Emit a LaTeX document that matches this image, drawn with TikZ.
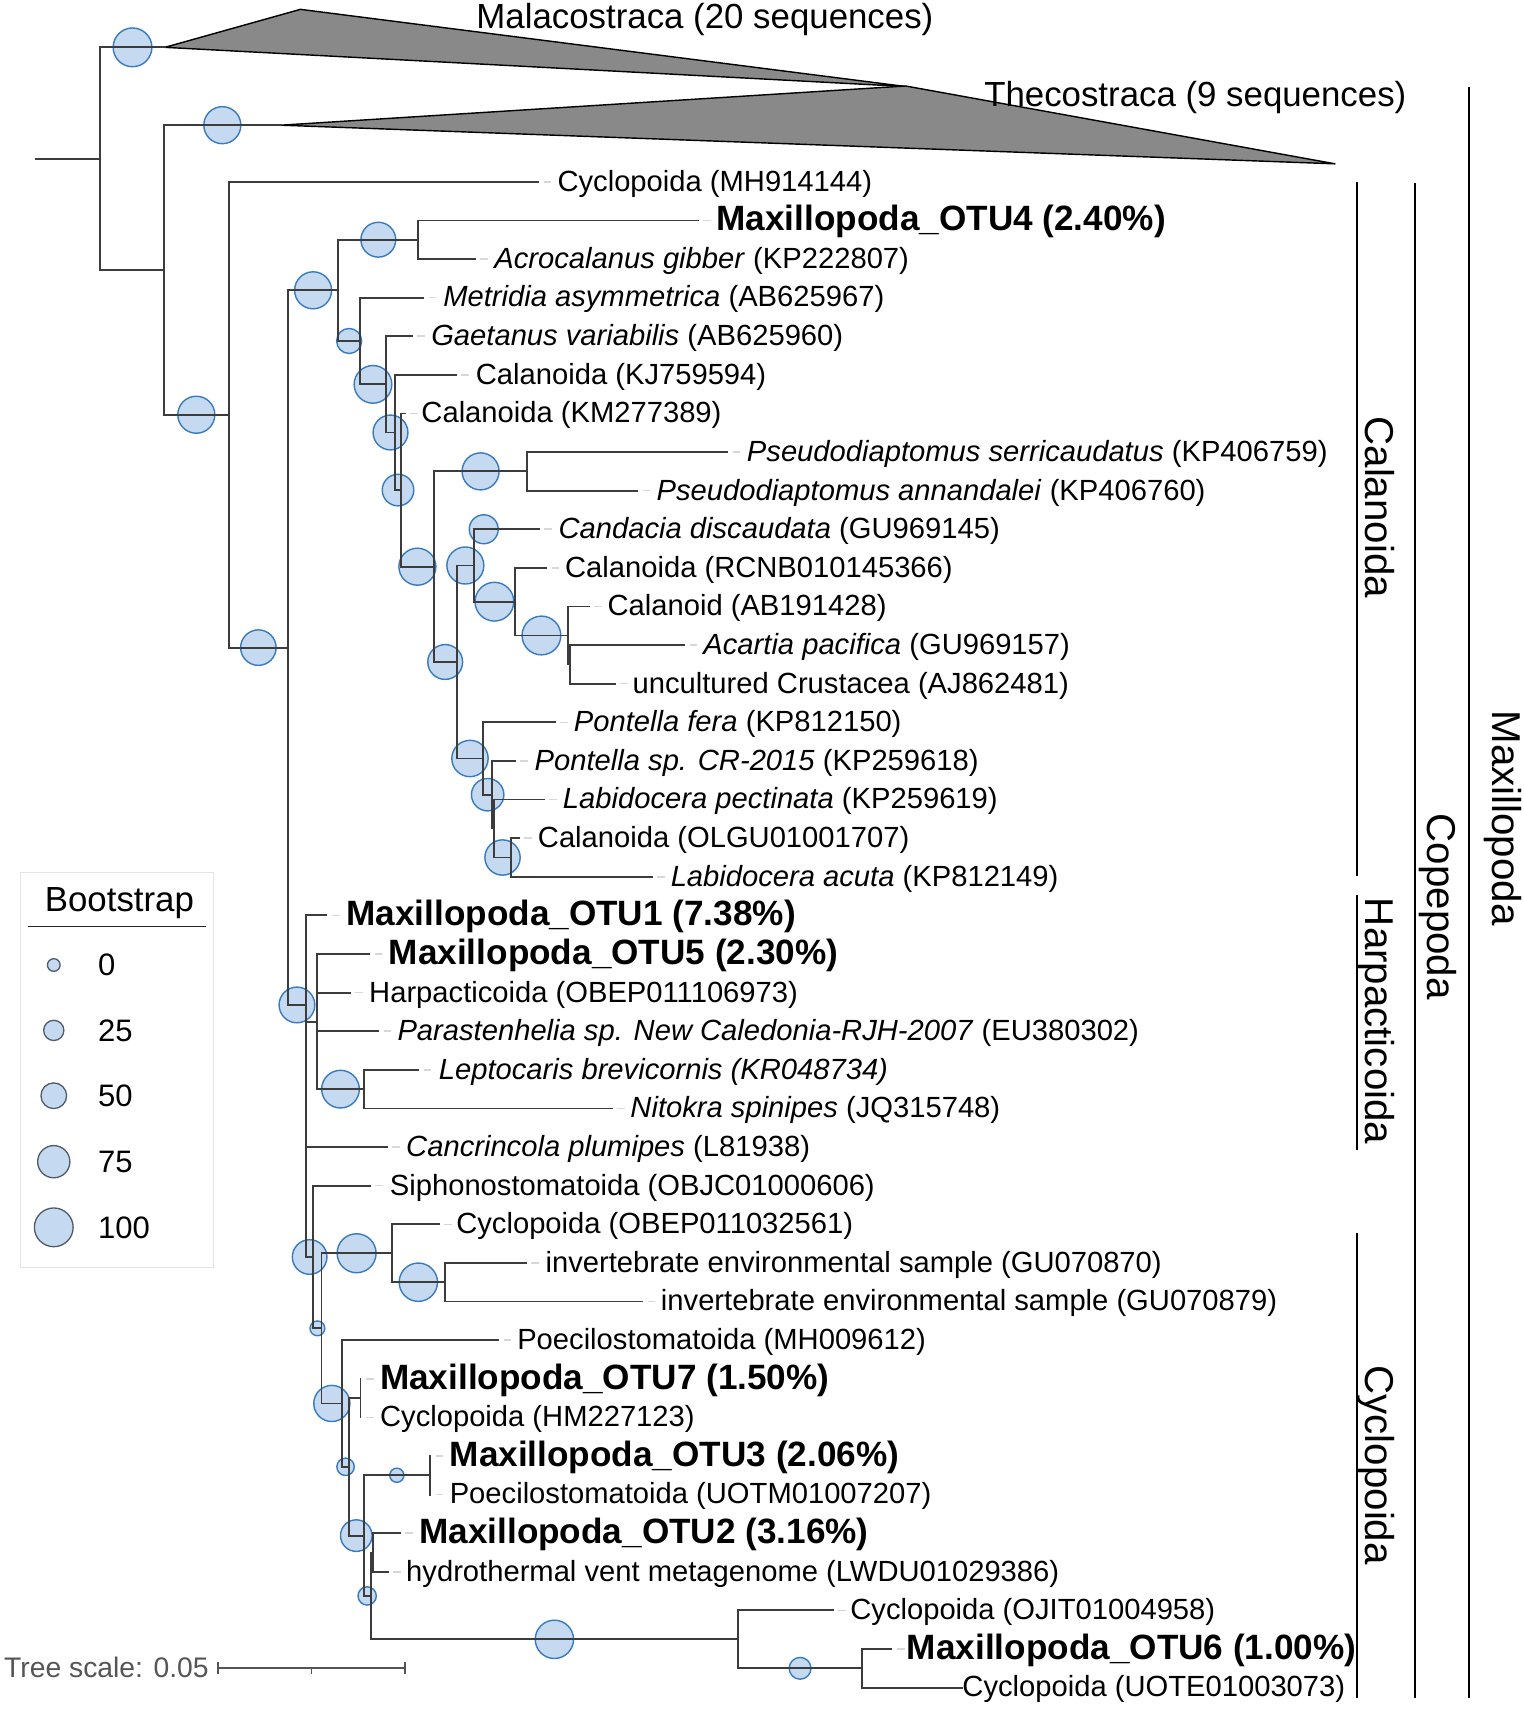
\documentclass[tikz,border=0pt]{standalone}
\usepackage{fontspec}
\setmainfont{Liberation Sans}
\usetikzlibrary{calc}
\definecolor{brc}{RGB}{60,60,60}
\definecolor{leadc}{RGB}{215,215,215}
\definecolor{bsfill}{RGB}{197,218,240}
\definecolor{bsline}{RGB}{58,123,191}
\definecolor{lgline}{RGB}{80,90,105}
\definecolor{trig}{RGB}{137,137,137}
\definecolor{boxc}{RGB}{228,228,228}
\definecolor{scalec}{RGB}{85,85,85}
\newcommand\hbr[2]{\draw[br] (#1 |- #2) -- (#2);}
\newcommand\vbr[3]{\draw[br] (#1 |- #2) -- (#1 |- #3);}
\newcommand\bootc[4]{\node[bs,minimum size=#4pt] (#1) at ($(#2 |- #3)!0.5!(#3)$) {};}
\begin{document}
\begin{tikzpicture}[x=1pt,y=-1pt,
  br/.style={draw=brc,line width=1.7pt,line cap=rect},
  lead/.style={draw=leadc,line width=1.4pt},
  bs/.style={circle,draw=bsline,fill=bsfill,line width=1.3pt,inner sep=0pt},
  lgc/.style={circle,draw=lgline,fill=bsfill,line width=1.2pt,inner sep=0pt},
  lab/.style={anchor=base west,inner sep=0pt,yshift=-8.6pt,font=\fontsize{26.8}{30}\selectfont},
  blab/.style={anchor=base west,inner sep=0pt,yshift=-9.6pt,font=\fontsize{32.3}{36}\selectfont\bfseries},
  clade/.style={anchor=base,rotate=-90,inner sep=0pt,font=\fontsize{37}{40}\selectfont},
  bar/.style={draw=black,line width=1.8pt},
  trilab/.style={anchor=base west,inner sep=0pt,font=\fontsize{32}{34}\selectfont}]
\useasboundingbox (0,0) rectangle (1400,1570);

% ---------- internal nodes ----------
\coordinate (root) at (33,145.75);
\coordinate (A) at (92,145.75);
\coordinate (mal) at (151.5,43.5);
\coordinate (B) at (150.5,248);
\coordinate (the) at (258,115);
\coordinate (C) at (210.2,381);
\coordinate (D) at (264.5,594.95);
\coordinate (E) at (310.8,266.7);
\coordinate (E1) at (384.3,220.2);
\coordinate (E2) at (330.7,313.25);
\coordinate (E3) at (354.6,353.1);
\coordinate (E4) at (362.9,397.3);
\coordinate (E5) at (368.4,450.2);
\coordinate (E6) at (398.5,520.6);
\coordinate (P) at (484.5,433.05);
\coordinate (E7) at (419.5,608.15);
\coordinate (Q) at (435.5,519.5);
\coordinate (Q2) at (472.9,552.75);
\coordinate (Q3) at (521.9,583.8);
\coordinate (Q3s) at (523.5,610.35);
\coordinate (R) at (444,696.8);
\coordinate (R2) at (452,730.05);
\coordinate (R2s) at (453.5,761.1);
\coordinate (R3) at (469.8,787.75);
\coordinate (F) at (281.1,923.2);
\coordinate (H) at (290.9,938.5);
\coordinate (LN) at (334.7,1000.55);
\coordinate (G) at (287.8,1154.75);
\coordinate (G2) at (295.4,1220.3);
\coordinate (CI) at (359.8,1151.3);
\coordinate (IP) at (408.8,1177.9);
\coordinate (G3) at (314.3,1289.3);
\coordinate (P7) at (331.2,1284.3);
\coordinate (G4) at (320.6,1347.5);
\coordinate (L) at (334,1410.7);
\coordinate (P3) at (395.1,1355.25);
\coordinate (K) at (340.6,1466.1);
\coordinate (P2) at (342.5,1426.2);
\coordinate (M) at (678,1506);
\coordinate (P6) at (792,1532.6);

% ---------- leaves ----------
\foreach \i/\x/\y in {1/494.3/167.0,2/641/202.5,3/436.4/237.9,4/388.9/273.4,5/378.2/308.9,
  6/418.9/344.4,7/372/379.8,8/668/415.3,9/585.5/450.8,10/495/486.2,11/501.8/521.7,
  12/541/557.2,13/628.7/592.6,14/564.6/628.1,15/509.8/663.6,16/473/699.0,17/499.6/734.5,
  18/476.6/770.0,19/598.9/805.5,20/300/840.9,21/339.3/876.4,22/321.5/911.9,23/347.5/947.3,
  24/384.3/982.8,25/562/1018.3,26/355.2/1053.8,27/339.9/1089.2,28/403/1124.7,29/483.2/1160.2,
  30/590/1195.6,31/457.7/1231.1,32/331.2/1266.6,33/331.2/1302.0,34/395.1/1337.5,35/395.1/1373.0,
  36/367.4/1408.5,37/356.4/1443.9,38/765/1479.4,39/819/1514.9,40/884/1550.3}
  {\coordinate (l\i) at (\x,\y);}

% ---------- collapsed clades ----------
\draw[fill=trig,draw=black,line width=1.3pt,line join=round] (mal) -- (276,8.6) -- (832,79.5) -- cycle;
\draw[fill=trig,draw=black,line width=1.3pt,line join=round] (the) -- (832,79) -- (1226.4,150.5) -- cycle;

% ---------- bootstrap circles ----------
\bootc{cmal}{A}{mal}{35.6}
\bootc{cthe}{B}{the}{34}
\bootc{cC}{B}{C}{34}
\bootc{cD}{C}{D}{32.6}
\bootc{cE}{D}{E}{34}
\bootc{cE1}{E}{E1}{32}
\bootc{cE2}{E}{E2}{23}
\bootc{cE3}{E2}{E3}{34.6}
\bootc{cE4}{E3}{E4}{32}
\bootc{cE5}{E4}{E5}{29}
\bootc{cE6}{E5}{E6}{34}
\bootc{cP}{E6}{P}{34}
\bootc{cE7}{E6}{E7}{32}
\bootc{cQ}{E7}{Q}{34}
\node[bs,minimum size=26.6pt] (cCand) at (444.4,486.2) {};
\bootc{cQ2}{Q}{Q2}{35.6}
\bootc{cQ3}{Q2}{Q3}{35.6}
\bootc{cR}{E7}{R}{33.4}
\bootc{cR2}{R}{R2}{29.8}
\bootc{cR3}{R2s}{R3}{32.4}
\bootc{cF}{D}{F}{32.8}
\bootc{cLN}{H}{LN}{34.6}
\bootc{cG}{F}{G}{31.8}
\bootc{cG2}{G}{G2}{13.6}
\bootc{cCI}{G2}{CI}{35.8}
\bootc{cIP}{CI}{IP}{35.2}
\bootc{cG3}{G2}{G3}{33.2}
\bootc{cG4}{G3}{G4}{16}
\bootc{cL}{G4}{L}{29}
\bootc{cP3}{L}{P3}{13}
\bootc{cK}{L}{K}{16.8}
\bootc{cM}{K}{M}{35.2}
\bootc{cP6}{M}{P6}{20}

% ---------- branches ----------
\draw[br] (root) -- (A);
\vbr{A}{mal}{B} \hbr{A}{mal} \hbr{A}{B}
\vbr{B}{the}{C} \hbr{B}{the} \hbr{B}{C}
\vbr{C}{l1}{D} \hbr{C}{l1} \hbr{C}{D}
\vbr{D}{E}{F} \hbr{D}{E} \hbr{D}{F}
\vbr{E}{E1}{E2} \hbr{E}{E1} \hbr{E}{E2}
\vbr{E1}{l2}{l3} \hbr{E1}{l2} \hbr{E1}{l3}
\vbr{E2}{l4}{E3} \hbr{E2}{l4} \hbr{E2}{E3}
\vbr{E3}{l5}{E4} \hbr{E3}{l5} \hbr{E3}{E4}
\vbr{E4}{l6}{E5} \hbr{E4}{l6} \hbr{E4}{E5}
\vbr{E5}{l7}{E6} \hbr{E5}{l7} \hbr{E5}{E6}
\vbr{E6}{P}{E7} \hbr{E6}{P} \hbr{E6}{E7}
\vbr{P}{l8}{l9} \hbr{P}{l8} \hbr{P}{l9}
\vbr{E7}{Q}{R} \hbr{E7}{Q} \hbr{E7}{R}
\vbr{Q}{l10}{Q2} \hbr{Q}{l10} \hbr{Q}{Q2}
\vbr{Q2}{l11}{Q3} \hbr{Q2}{l11} \hbr{Q2}{Q3}
\vbr{Q3}{l12}{Q3s} \hbr{Q3}{l12} \hbr{Q3}{Q3s}
\vbr{Q3s}{l13}{l14} \hbr{Q3s}{l13} \hbr{Q3s}{l14}
\vbr{R}{l15}{R2} \hbr{R}{l15} \hbr{R}{R2}
\vbr{R2}{l16}{R2s} \hbr{R2}{l16} \hbr{R2}{R2s}
\vbr{R2s}{l17}{R3} \hbr{R2s}{l17} \hbr{R2s}{R3}
\vbr{R3}{l18}{l19} \hbr{R3}{l18} \hbr{R3}{l19}
\vbr{F}{l20}{G} \hbr{F}{l20} \hbr{F}{H} \hbr{F}{l26} \hbr{F}{G}
\vbr{H}{l21}{LN} \hbr{H}{l21} \hbr{H}{l22} \hbr{H}{l23} \hbr{H}{LN}
\vbr{LN}{l24}{l25} \hbr{LN}{l24} \hbr{LN}{l25}
\vbr{G}{l27}{G2} \hbr{G}{l27} \hbr{G}{G2}
\vbr{G2}{CI}{G3} \hbr{G2}{CI} \hbr{G2}{G3}
\vbr{CI}{l28}{IP} \hbr{CI}{l28} \hbr{CI}{IP}
\vbr{IP}{l29}{l30} \hbr{IP}{l29} \hbr{IP}{l30}
\vbr{G3}{l31}{G4} \hbr{G3}{l31} \hbr{G3}{G4}
\vbr{G4}{P7}{L} \hbr{G4}{P7} \hbr{G4}{L}
\vbr{P7}{l32}{l33}
\vbr{L}{P3}{K} \hbr{L}{P3} \hbr{L}{K}
\vbr{P3}{l34}{l35}
\vbr{K}{P2}{M} \hbr{K}{P2} \hbr{K}{M}
\vbr{P2}{l36}{l37} \hbr{P2}{l36} \hbr{P2}{l37}
\vbr{M}{l38}{P6} \hbr{M}{l38} \hbr{M}{P6}
\vbr{P6}{l39}{l40} \hbr{P6}{l39} \hbr{P6}{l40}

% ---------- leaders ----------
\foreach \i in {1,...,39} {\draw[lead] ([xshift=5pt]l\i) -- ([xshift=12pt]l\i);}

% ---------- leaf labels ----------
\foreach \i/\lx/\y/\s/\t in {
  1/512/167.0/lab/{Cyclopoida (MH914144)},
  2/658/202.5/blab/{Maxillopoda\_OTU4 (2.40\%)},
  3/454/237.9/lab/{\textit{Acrocalanus gibber} (KP222807)},
  4/407/273.4/lab/{\textit{Metridia asymmetrica} (AB625967)},
  5/396/308.9/lab/{\textit{Gaetanus variabilis} (AB625960)},
  6/437/344.4/lab/{Calanoida (KJ759594)},
  7/387/379.8/lab/{Calanoida (KM277389)},
  8/686/415.3/lab/{\textit{Pseudodiaptomus serricaudatus} (KP406759)},
  9/603/450.8/lab/{\textit{Pseudodiaptomus annandalei} (KP406760)},
  10/513/486.2/lab/{\textit{Candacia discaudata} (GU969145)},
  11/519/521.7/lab/{Calanoida (RCNB010145366)},
  12/558/557.2/lab/{Calanoid (AB191428)},
  13/646/592.6/lab/{\textit{Acartia pacifica} (GU969157)},
  14/581/628.1/lab/{uncultured Crustacea (AJ862481)},
  15/527/663.6/lab/{\textit{Pontella fera} (KP812150)},
  16/491/699.0/lab/{\textit{Pontella sp. CR-2015} (KP259618)},
  17/517/734.5/lab/{\textit{Labidocera pectinata} (KP259619)},
  18/494/770.0/lab/{Calanoida (OLGU01001707)},
  19/616/805.5/lab/{\textit{Labidocera acuta} (KP812149)},
  20/318/840.9/blab/{Maxillopoda\_OTU1 (7.38\%)},
  21/357/876.4/blab/{Maxillopoda\_OTU5 (2.30\%)},
  22/339/911.9/lab/{Harpacticoida (OBEP011106973)},
  23/365/947.3/lab/{\textit{Parastenhelia sp. New Caledonia-RJH-2007} (EU380302)},
  24/403/982.8/lab/{\textit{Leptocaris brevicornis (KR048734)}},
  25/579/1018.3/lab/{\textit{Nitokra spinipes} (JQ315748)},
  26/373/1053.8/lab/{\textit{Cancrincola plumipes} (L81938)},
  27/358/1089.2/lab/{Siphonostomatoida (OBJC01000606)},
  28/419/1124.7/lab/{Cyclopoida (OBEP011032561)},
  29/501/1160.2/lab/{invertebrate environmental sample (GU070870)},
  30/607/1195.6/lab/{invertebrate environmental sample (GU070879)},
  31/475/1231.1/lab/{Poecilostomatoida (MH009612)},
  32/349/1266.6/blab/{Maxillopoda\_OTU7 (1.50\%)},
  33/349/1302.0/lab/{Cyclopoida (HM227123)},
  34/413/1337.5/blab/{Maxillopoda\_OTU3 (2.06\%)},
  35/413/1373.0/lab/{Poecilostomatoida (UOTM01007207)},
  36/385/1408.5/blab/{Maxillopoda\_OTU2 (3.16\%)},
  37/373/1443.9/lab/{hydrothermal vent metagenome (LWDU01029386)},
  38/781/1479.4/lab/{Cyclopoida (OJIT01004958)},
  39/833/1514.9/blab/{Maxillopoda\_OTU6 (1.00\%)},
  40/884/1550.3/lab/{Cyclopoida (UOTE01003073)}}
  {\node[\s] (t\i) at (\lx,\y) {\t};}

% ---------- collapsed clade labels ----------
\node[trilab] (tmal) at (437.5,26) {Malacostraca (20 sequences)};
\node[trilab] (tthe) at (904,97.4) {Thecostraca (9 sequences)};

% ---------- clade bars ----------
\draw[bar] (1246.5,167) -- (1246.5,805);
\draw[bar] (1246.5,822) -- (1246.5,1056);
\draw[bar] (1246.5,1133) -- (1246.5,1560);
\draw[bar] (1300,168) -- (1300,1560);
\draw[bar] (1349.4,80) -- (1349.4,1560);
\node[clade] (kCal) at (1254,466) {Calanoida};
\node[clade] (kHar) at (1254,938) {Harpacticoida};
\node[clade] (kCyc) at (1254,1346) {Cyclopoida};
\node[clade] (kCop) at (1311,833) {Copepoda};
\node[clade] (kMax) at (1371,751.5) {Maxillopoda};

% ---------- legend ----------
\draw[draw=boxc,line width=1pt] (18.7,801.6) rectangle (195.9,1164);
\node[anchor=base west,inner sep=0pt,font=\fontsize{32}{36}\selectfont] (lgT) at (41,837.5) {Bootstrap};
\draw[line width=1.5pt,black!85] (25.8,851.2) -- (189.3,851.2);
\foreach \v/\d/\y in {0/11.6/886.5,25/18.6/946.6,50/23.6/1006.6,75/29.6/1067.2,100/35.6/1127.5}{
  \node[lgc,minimum size=\d pt] (lgc\v) at (49.4,\y) {};
  \node[anchor=base west,inner sep=0pt,font=\fontsize{28.5}{32}\selectfont] (lgn\v) at (90,\y+10) {\v};
}

% ---------- tree scale ----------
\node[anchor=base west,inner sep=0pt,text=scalec,font=\fontsize{26}{30}\selectfont] (ts) at (3.6,1541) {Tree scale: 0.05};
\coordinate (sa) at (200.3,1532.6);
\coordinate (sb) at (371.8,1532.6);
\coordinate (sm) at (286,1532.6);
\draw[scalec,line width=1.5pt] (sa) -- (sb);
\draw[scalec,line width=1.5pt] ([yshift=5.5pt]sa) -- ([yshift=-5.5pt]sa);
\draw[scalec,line width=1.5pt] ([yshift=5.5pt]sb) -- ([yshift=-5.5pt]sb);
\draw[scalec,line width=1.5pt] (sm) -- ([yshift=-5pt]sm);
\end{tikzpicture}
\end{document}
